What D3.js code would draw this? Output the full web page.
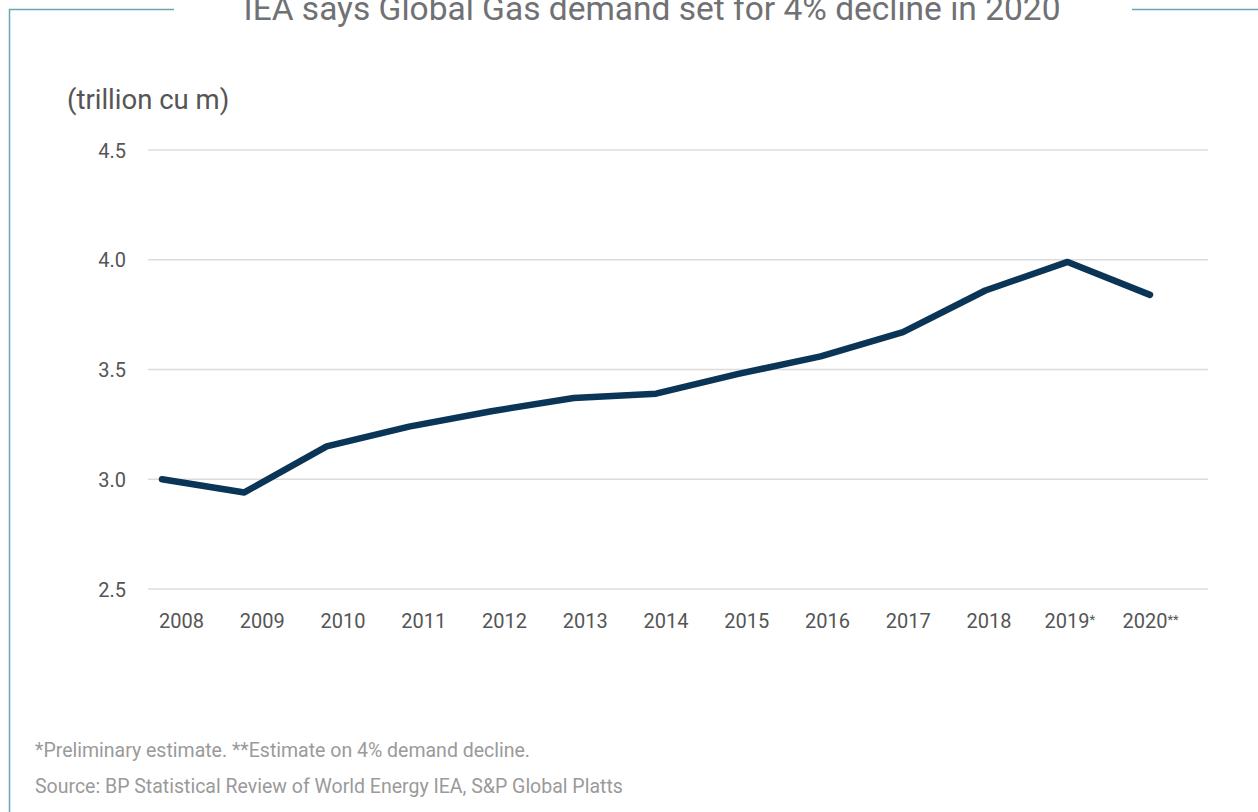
<!DOCTYPE html>
<html>
<head>
<meta charset="utf-8">
<script src="https://cdn.jsdelivr.net/npm/d3@7/dist/d3.min.js"></script>
<style>
  html, body { margin: 0; padding: 0; background: #fff; }
  svg { display: block; font-family: Roboto, "Noto Sans", sans-serif; }
</style>
</head>
<body>
<svg id="chart" width="1258" height="812"></svg>
<script>
// Global gas demand, trillion cubic metres
const years = ["2008", "2009", "2010", "2011", "2012", "2013", "2014",
               "2015", "2016", "2017", "2018", "2019", "2020"];
const yearMarks = ["", "", "", "", "", "", "", "", "", "", "", "*", "**"];
const demand = [3.00, 2.94, 3.15, 3.24, 3.31, 3.37, 3.39,
                3.48, 3.56, 3.67, 3.86, 3.99, 3.84];
const yTicks = [2.5, 3.0, 3.5, 4.0, 4.5];

const titleText = "IEA says Global Gas demand set for 4% decline in 2020";
const unitText = "(trillion cu m)";
const notes = [
  "*Preliminary estimate. **Estimate on 4% demand decline.",
  "Source: BP Statistical Review of World Energy IEA, S&P Global Platts"
];

const svg = d3.select("#chart");
const frameColor = "#6aa6b6";

// frame: top rule broken by the title, left rule running down
svg.append("line").attr("x1", 9).attr("x2", 174).attr("y1", 9.5).attr("y2", 9.5)
  .attr("stroke", frameColor).attr("stroke-width", 1.5);
svg.append("line").attr("x1", 1132).attr("x2", 1258).attr("y1", 9.5).attr("y2", 9.5)
  .attr("stroke", frameColor).attr("stroke-width", 1.5);
svg.append("line").attr("x1", 9.5).attr("x2", 9.5).attr("y1", 9).attr("y2", 812)
  .attr("stroke", frameColor).attr("stroke-width", 1.5);

svg.append("text")
  .attr("x", 652).attr("y", 20)
  .attr("text-anchor", "middle")
  .attr("font-size", 33.5)
  .attr("fill", "#707174")
  .text(titleText);

// scales
const y = d3.scaleLinear().domain([2.5, 4.5]).range([589, 150]);
const xLine = d3.scalePoint().domain(years).range([162, 1150]);
const xLabel = d3.scalePoint().domain(years).range([181, 1150]);

// gridlines
svg.append("g")
  .selectAll("line")
  .data(yTicks)
  .join("line")
  .attr("x1", 148).attr("x2", 1208)
  .attr("y1", d => y(d)).attr("y2", d => y(d))
  .attr("stroke", "#dcdcdc").attr("stroke-width", 1.5);

// y axis labels
const yAxis = d3.axisLeft(y).tickValues(yTicks).tickFormat(d3.format(".1f")).tickSize(0).tickPadding(0);
const gy = svg.append("g").attr("transform", "translate(126,0)").call(yAxis);
gy.select(".domain").remove();
gy.selectAll("text")
  .attr("font-family", "Roboto, sans-serif")
  .attr("font-size", 20)
  .attr("fill", "#555")
  .attr("dy", "0.35em");

svg.append("text")
  .attr("x", 67).attr("y", 109)
  .attr("font-size", 27.5)
  .attr("fill", "#555")
  .text(unitText);

// x axis labels, with small raised footnote marks
const xAxis = d3.axisBottom(xLabel).tickSize(0).tickPadding(0);
const gx = svg.append("g").attr("transform", "translate(0,614)").call(xAxis);
gx.select(".domain").remove();
gx.selectAll("text")
  .attr("font-family", "Roboto, sans-serif")
  .attr("font-size", 20)
  .attr("fill", "#555")
  .attr("dy", "0.7em")
  .each(function(d, i) {
    const mark = yearMarks[years.indexOf(d)];
    if (mark) {
      d3.select(this).append("tspan")
        .attr("font-size", 13)
        .attr("dy", "-0.3em")
        .text(mark);
    }
  });

// demand line
const line = d3.line()
  .x((d, i) => xLine(years[i]))
  .y(d => y(d))
  .curve(d3.curveLinear);

svg.append("path")
  .datum(demand)
  .attr("d", line)
  .attr("fill", "none")
  .attr("stroke", "#0b3556")
  .attr("stroke-width", 6.5)
  .attr("stroke-linecap", "round")
  .attr("stroke-linejoin", "round");

// footnotes
svg.append("g")
  .selectAll("text")
  .data(notes)
  .join("text")
  .attr("x", 35)
  .attr("y", (d, i) => 757 + i * 36)
  .attr("font-size", 19.5)
  .attr("fill", "#9a9a9a")
  .text(d => d);
</script>
</body>
</html>
